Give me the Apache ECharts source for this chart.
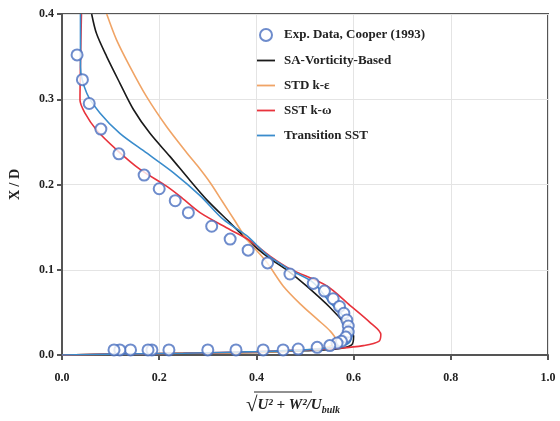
<!DOCTYPE html>
<html>
<head>
<meta charset="utf-8">
<script src="https://cdn.jsdelivr.net/npm/echarts@6/dist/echarts.min.js"></script>
<style>
  html, body { margin: 0; padding: 0; background: #fff; }
  #chart { width: 560px; height: 421px; }
</style>
</head>
<body>
<div id="chart"></div>
<script>
// profiles: [velocity magnitude, X/D]
const expData = [
  [0.031, 0.352], [0.042, 0.323], [0.056, 0.295], [0.080, 0.265], [0.117, 0.236],
  [0.169, 0.211], [0.200, 0.195], [0.233, 0.181], [0.260, 0.167], [0.308, 0.151],
  [0.346, 0.136], [0.383, 0.123], [0.423, 0.108], [0.469, 0.095], [0.517, 0.084],
  [0.540, 0.075], [0.558, 0.066], [0.571, 0.057], [0.580, 0.049], [0.586, 0.041],
  [0.589, 0.034], [0.589, 0.027], [0.584, 0.021], [0.575, 0.016], [0.566, 0.014],
  [0.551, 0.011], [0.525, 0.009], [0.486, 0.007], [0.455, 0.006], [0.414, 0.006],
  [0.358, 0.006], [0.300, 0.006], [0.220, 0.006], [0.185, 0.006], [0.177, 0.006],
  [0.141, 0.006], [0.119, 0.006], [0.107, 0.006]
];
const saVorticity = [
  [0.061, 0.400], [0.071, 0.377], [0.092, 0.350], [0.119, 0.319], [0.147, 0.288],
  [0.181, 0.260], [0.222, 0.233], [0.263, 0.205], [0.298, 0.182], [0.346, 0.155],
  [0.380, 0.136], [0.421, 0.116], [0.469, 0.097], [0.503, 0.081], [0.551, 0.056],
  [0.586, 0.034], [0.600, 0.022], [0.596, 0.012], [0.565, 0.007], [0.500, 0.005],
  [0.400, 0.003], [0.250, 0.002], [0.100, 0.001], [0.000, 0.000]
];
const stdKe = [
  [0.092, 0.400], [0.112, 0.370], [0.140, 0.338], [0.174, 0.303], [0.215, 0.268],
  [0.257, 0.237], [0.280, 0.221], [0.305, 0.202], [0.330, 0.180], [0.355, 0.158],
  [0.380, 0.136], [0.421, 0.109], [0.455, 0.081], [0.490, 0.060], [0.525, 0.042],
  [0.552, 0.028], [0.563, 0.018], [0.550, 0.010], [0.500, 0.006], [0.400, 0.003],
  [0.250, 0.002], [0.100, 0.001], [0.000, 0.000]
];
const sstKw = [
  [0.040, 0.400], [0.038, 0.340], [0.037, 0.299], [0.047, 0.284], [0.071, 0.264],
  [0.112, 0.241], [0.160, 0.218], [0.215, 0.198], [0.243, 0.186], [0.284, 0.167],
  [0.346, 0.147], [0.387, 0.134], [0.428, 0.116], [0.469, 0.101], [0.545, 0.081],
  [0.593, 0.058], [0.634, 0.038], [0.656, 0.024], [0.652, 0.016], [0.620, 0.011],
  [0.572, 0.008], [0.500, 0.006], [0.400, 0.004], [0.250, 0.002], [0.100, 0.001],
  [0.000, 0.000]
];
const transitionSst = [
  [0.038, 0.400], [0.038, 0.338], [0.051, 0.307], [0.078, 0.284], [0.119, 0.260],
  [0.174, 0.237], [0.229, 0.214], [0.284, 0.187], [0.332, 0.159], [0.380, 0.140],
  [0.421, 0.118], [0.469, 0.100], [0.517, 0.085], [0.551, 0.062], [0.578, 0.046],
  [0.597, 0.027], [0.590, 0.014], [0.558, 0.009], [0.500, 0.006], [0.400, 0.004],
  [0.250, 0.002], [0.100, 0.001], [0.000, 0.000]
];
const seriesNames = ['Exp. Data, Cooper (1993)', 'SA-Vorticity-Based', 'STD k-\u03b5', 'SST k-\u03c9', 'Transition SST'];

const font = '"Liberation Serif", "DejaVu Serif", serif';
const lineIcon = 'path://M0,0 L20,0 L20,2 L0,2 Z';
const chart = echarts.init(document.getElementById('chart'));

const lineSeries = (name, data, color) => ({
  name: name,
  type: 'line',
  data: data,
  symbol: 'none',
  smooth: 0.3,
  color: color,
  lineStyle: { width: 1.6, color: color },
  z: 2
});

chart.setOption({
  animation: false,
  grid: {
    left: 62, right: 12, top: 14, bottom: 65,
    show: true, borderColor: '#555', borderWidth: 2
  },
  legend: {
    data: seriesNames.map((n, i) => ({ name: n, icon: i === 0 ? 'emptyCircle' : lineIcon })),
    orient: 'vertical',
    left: 252,
    top: 23,
    itemGap: 12,
    itemWidth: 18,
    itemHeight: 12,
    textStyle: { fontFamily: font, fontWeight: 'bold', fontSize: 13, color: '#222', padding: [0, 0, 0, 4] }
  },
  xAxis: {
    type: 'value',
    min: 0, max: 1, interval: 0.2,
    name: '{r|\u221a}{t|U\u00b2 + W\u00b2}{t|/U}{s|bulk}',
    nameLocation: 'middle',
    nameGap: 40,
    nameTextStyle: {
      padding: [0, 24, 0, 0],
      rich: {
        r: { fontFamily: font, fontSize: 21, color: '#222' },
        t: { fontFamily: font, fontSize: 15, fontStyle: 'italic', fontWeight: 'bold', color: '#222' },
        s: { fontFamily: font, fontSize: 10, fontStyle: 'italic', fontWeight: 'bold', color: '#222', padding: [9, 0, 0, 0] }
      }
    },
    axisLine: { lineStyle: { color: '#555', width: 2 } },
    axisTick: { show: true, length: 5, lineStyle: { color: '#555', width: 2 } },
    axisLabel: {
      margin: 17,
      fontFamily: font, fontWeight: 'bold', fontSize: 12, color: '#222',
      formatter: v => v.toFixed(1)
    },
    splitLine: { lineStyle: { color: '#e4e4e4', width: 1 } }
  },
  yAxis: {
    type: 'value',
    min: 0, max: 0.4, interval: 0.1,
    name: 'X / D',
    nameLocation: 'middle',
    nameGap: 40,
    nameRotate: 90,
    nameTextStyle: { fontFamily: font, fontWeight: 'bold', fontSize: 14, color: '#222' },
    axisLine: { lineStyle: { color: '#555', width: 2 } },
    axisTick: { show: true, length: 5, lineStyle: { color: '#555', width: 2 } },
    axisLabel: {
      margin: 8,
      fontFamily: font, fontWeight: 'bold', fontSize: 12, color: '#222',
      formatter: v => v.toFixed(1)
    },
    splitLine: { lineStyle: { color: '#e4e4e4', width: 1 } }
  },
  graphic: [
    { type: 'line', shape: { x1: 254, y1: 392, x2: 312, y2: 392 }, style: { stroke: '#222', lineWidth: 1 } }
  ],
  series: [
    {
      name: seriesNames[0],
      type: 'scatter',
      data: expData,
      symbol: 'emptyCircle',
      symbolSize: 11,
      itemStyle: { color: '#4a6fbf', borderColor: '#4a6fbf', borderWidth: 1.8 },
      z: 3
    },
    lineSeries(seriesNames[1], saVorticity, '#1a1a1a'),
    lineSeries(seriesNames[2], stdKe, '#f0a466'),
    lineSeries(seriesNames[3], sstKw, '#e8333c'),
    lineSeries(seriesNames[4], transitionSst, '#3a8ccc')
  ]
});
</script>
</body>
</html>
